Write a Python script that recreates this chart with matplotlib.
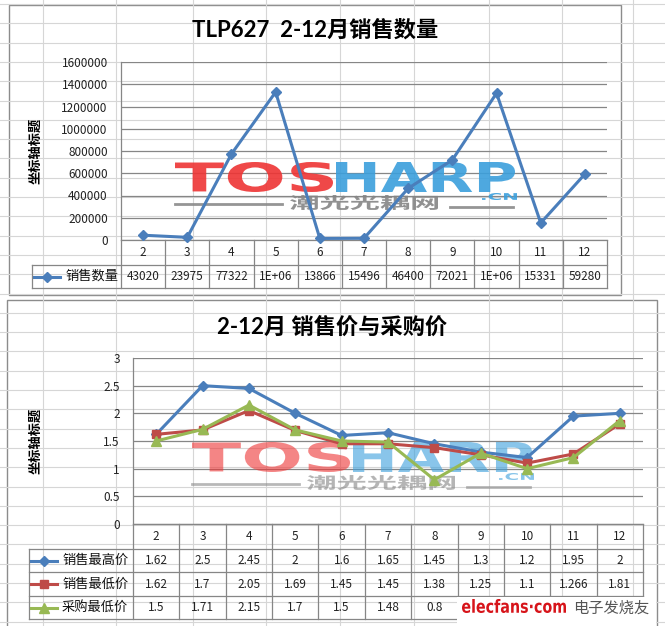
import numpy as np
import matplotlib
matplotlib.use('Agg')
import matplotlib.pyplot as plt
from matplotlib.font_manager import FontProperties
from matplotlib.textpath import TextPath
from matplotlib.patches import PathPatch, Rectangle
from matplotlib.transforms import Affine2D, blended_transform_factory
from matplotlib.ticker import FuncFormatter

plt.rcParams['font.family'] = ['Noto Sans CJK SC', 'DejaVu Sans']

# ---- data ----
months = ['2', '3', '4', '5', '6', '7', '8', '9', '10', '11', '12']

qty = [43020, 23975, 773220, 1330000, 13866, 15496, 464000, 720210, 1320000, 153310, 592800]
qty_cells = ['43020', '23975', '77322', '1E+06', '13866', '15496', '46400',
             '72021', '1E+06', '15331', '59280']

price_high = [1.62, 2.5, 2.45, 2, 1.6, 1.65, 1.45, 1.3, 1.2, 1.95, 2]
price_low = [1.62, 1.7, 2.05, 1.69, 1.45, 1.45, 1.38, 1.25, 1.1, 1.266, 1.81]
buy_low = [1.5, 1.71, 2.15, 1.7, 1.5, 1.48, 0.8, 1.28, 1.0, 1.2, 1.87]

BLUE = '#4a7ebb'
RED = '#be4b48'
GREEN = '#98b954'
GRID = '#868686'

W, H = 665, 626
fig = plt.figure(figsize=(W / 100, H / 100), dpi=100)


def fx(x):
    return x / W


def fy(y):
    return 1 - y / H


# worksheet cells behind the charts
bg = fig.add_axes([0, 0, 1, 1], zorder=-5)
bg.set_xlim(0, W)
bg.set_ylim(H, 0)
bg.axis('off')
for x in [43, 116, 193, 266, 340, 414, 489, 562, 633]:
    bg.axvline(x, color='#d6d6d6', lw=0.8)
for y in np.arange(4, H, 19.3):
    bg.axhline(y, color='#d6d6d6', lw=0.8)
bg.add_patch(Rectangle((9, 5), 612, 290, fc='white', ec='#8c8c8c', lw=1))
bg.add_patch(Rectangle((7, 300), 650, 340, fc='white', ec='#8c8c8c', lw=1))


def fit_text(ax, s, box, color, alpha=1.0, family='DejaVu Sans', weight='bold', z=1):
    # stretch a text outline into a pixel box (x0, y0, x1, y1), y downwards
    x0, y0, x1, y1 = box
    tp = TextPath((0, 0), s, size=10, prop=FontProperties(family=family, weight=weight))
    ext = tp.get_extents()
    tr = (Affine2D().translate(-ext.x0, -ext.y0)
          .scale((x1 - x0) / ext.width / W, (y1 - y0) / ext.height / H)
          .translate(fx(x0), fy(y1)) + fig.transFigure)
    ax.add_artist(PathPatch(tp, transform=tr, fc=color, ec='none', alpha=alpha,
                            zorder=z, clip_on=False))


def watermark(ax, dx, dy, alpha):
    fit_text(ax, 'TOS', (175 + dx, 162 + dy, 333 + dx, 192 + dy), '#ee3434', alpha)
    fit_text(ax, 'HARP', (336 + dx, 162 + dy, 515 + dx, 192 + dy), '#3b9fdc', alpha)
    fit_text(ax, '.CN', (482 + dx, 193 + dy, 517 + dx, 200 + dy), '#3b9fdc', alpha)
    fit_text(ax, '潮光光耦网', (290 + dx, 195 + dy, 438 + dx, 210 + dy), '#858585', alpha,
             family='Noto Sans CJK SC')
    for xa, xb, y in [(175, 282, 204), (450, 513, 207)]:
        ax.plot([fx(xa + dx), fx(xb + dx)], [fy(y + dy)] * 2, transform=fig.transFigure,
                color='#8a8a8a', lw=2, alpha=alpha, zorder=1, clip_on=False)


def make_axes(left, top, right, bottom, ymax, step):
    ax = fig.add_axes([fx(left), fy(bottom), (right - left) / W, (bottom - top) / H])
    ax.set_facecolor('none')
    ax.set_xlim(0.5, len(months) + 0.5)
    ax.set_ylim(0, ymax)
    ax.set_yticks(np.arange(0, ymax + step / 2, step))
    ax.set_xticks([])
    ax.set_axisbelow(True)
    ax.grid(axis='y', color=GRID, lw=0.9)
    for s in ['top', 'right']:
        ax.spines[s].set_visible(False)
    for s in ['left', 'bottom']:
        ax.spines[s].set_color(GRID)
        ax.spines[s].set_linewidth(0.9)
    ax.tick_params(axis='y', length=0, pad=9.5, labelsize=8.5, labelcolor='#222222')
    return ax


def draw_table(ax, rows, legend_left, series):
    trans = blended_transform_factory(ax.transData, fig.transFigure)
    pos = ax.get_position()
    xs = np.arange(1, len(months) + 1)
    kw = dict(color=GRID, lw=0.9, clip_on=False)
    for e in np.append(xs - 0.5, xs[-1] + 0.5):
        ax.plot([e, e], [fy(rows[0]), fy(rows[-1])], transform=trans, **kw)
    for y in rows[1:]:
        ax.plot([fx(legend_left), pos.x1], [fy(y)] * 2, transform=fig.transFigure, **kw)
    ax.plot([fx(legend_left)] * 2, [fy(rows[1]), fy(rows[-1])],
            transform=fig.transFigure, **kw)
    for x, m in zip(xs, months):
        ax.text(x, fy((rows[0] + rows[1]) / 2), m, transform=trans,
                ha='center', va='center', fontsize=8.5, color='#222222')
    for i, (name, cells, color, marker, ms) in enumerate(series):
        yc = fy((rows[i + 1] + rows[i + 2]) / 2)
        for x, c in zip(xs, cells):
            ax.text(x, yc, c, transform=trans, ha='center', va='center',
                    fontsize=8.5, color='#222222')
        lx = legend_left + 2
        ax.plot([fx(lx), fx(lx + 13), fx(lx + 26)], [yc] * 3, transform=fig.transFigure,
                color=color, lw=2.2, marker=marker, ms=ms, markevery=[1], clip_on=False)
        ax.text(fx(lx + 31), yc, name, transform=fig.transFigure, ha='left',
                va='center', fontsize=9.5, color='#111111')


title_font = dict(family=['Lato', 'Noto Sans CJK SC'], weight='bold', fontsize=16)
ylab_font = dict(family='Noto Sans CJK SC', weight='bold', fontsize=9.5)

# ---- sales quantity ----
ax1 = make_axes(121, 62, 607, 240, 1600000, 200000)
ax1.yaxis.set_major_formatter(FuncFormatter(lambda v, p: f'{int(v)}'))
watermark(ax1, 0, 0, 0.9)
x = np.arange(1, len(months) + 1)
ax1.plot(x, qty, color=BLUE, lw=2.2, marker='D', ms=5, zorder=3, clip_on=False)
draw_table(ax1, [240, 265, 288], 32, [('销售数量', qty_cells, BLUE, 'D', 5)])
fig.text(fx(315), fy(30), 'TLP627  2-12月销售数量', ha='center', va='center', **title_font)
fig.text(fx(35), fy(151), '坐标轴标题', rotation=90, ha='center', va='center', **ylab_font)

# ---- sale and purchase prices ----
ax2 = make_axes(133, 358, 643, 524, 3, 0.5)
ax2.yaxis.set_major_formatter(FuncFormatter(lambda v, p: f'{v:g}'))
watermark(ax2, 17, 280, 0.6)
ax2.plot(x, price_high, color=BLUE, lw=2.2, marker='D', ms=5, zorder=3)
ax2.plot(x, price_low, color=RED, lw=2.2, marker='s', ms=6, zorder=4)
ax2.plot(x, buy_low, color=GREEN, lw=2.2, marker='^', ms=7, zorder=5)
cells = lambda vals: [f'{v:g}' for v in vals]
draw_table(ax2, [524, 549, 572, 596, 619], 29, [
    ('销售最高价', cells(price_high), BLUE, 'D', 5),
    ('销售最低价', cells(price_low), RED, 's', 6),
    ('采购最低价', cells(buy_low), GREEN, '^', 7),
])
fig.text(fx(332), fy(327), '2-12月 销售价与采购价', ha='center', va='center', **title_font)
fig.text(fx(35), fy(441), '坐标轴标题', rotation=90, ha='center', va='center', **ylab_font)

# site badge in the lower right corner
badge = fig.add_axes([0, 0, 1, 1], zorder=10)
badge.set_xlim(0, W)
badge.set_ylim(H, 0)
badge.axis('off')
badge.add_patch(Rectangle((457, 597), 199, 30, fc='white', ec='none'))
fit_text(badge, 'elecfans·com', (462, 599, 566, 613), '#d7141a', z=11)
badge.text(573, 608, '电子发烧友', fontsize=11, color='#555555', va='center', ha='left')

fig.savefig('out.png', dpi=100)
